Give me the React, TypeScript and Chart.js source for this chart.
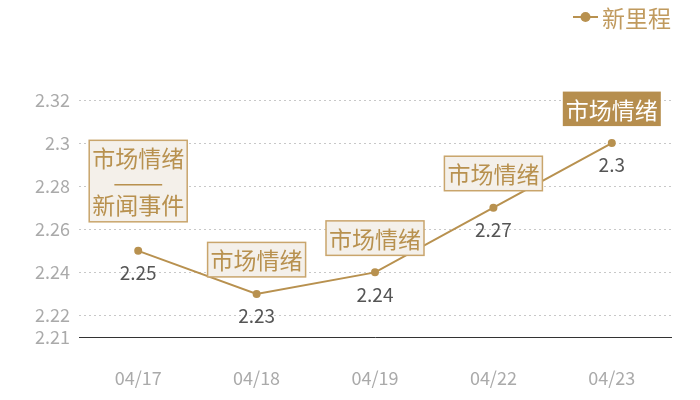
import React, { useEffect, useRef } from "react";
import { Chart, registerables } from "chart.js";

Chart.register(...registerables);

const categories = ["04/17", "04/18", "04/19", "04/22", "04/23"];
const values = [2.25, 2.23, 2.24, 2.27, 2.3];
const yTicks = [2.21, 2.22, 2.24, 2.26, 2.28, 2.3, 2.32];
const noteLines = [
  ["市场情绪", "——", "新闻事件"],
  ["市场情绪"],
  ["市场情绪"],
  ["市场情绪"],
  ["市场情绪"],
];
const noteHighlight = [false, false, false, false, true];
const seriesName = "新里程";

const FONT = '"Noto Sans CJK SC", "Noto Sans", sans-serif';
const GOLD = "#b8914f";
const BOX_BG = "#f4f0ea";
const BOX_BORDER = "#c9a56c";
const FILL_BOX = "#b68e4e";
const NOTE_SIZE = 23;

const overlayPlugin = {
  id: "overlay",
  afterDatasetsDraw(chart: any) {
    const ctx = chart.ctx;
    const meta = chart.getDatasetMeta(0);
    ctx.save();
    ctx.font = `19px ${FONT}`;
    ctx.fillStyle = "#555";
    ctx.textAlign = "center";
    ctx.textBaseline = "middle";
    meta.data.forEach((pt: any, i: number) => {
      ctx.fillText(String(values[i]), pt.x, pt.y + 22);
    });
    const lineH = 23.5;
    const padX = 3;
    const padY = 5.5;
    ctx.font = `${NOTE_SIZE}px ${FONT}`;
    meta.data.forEach((pt: any, i: number) => {
      const lines = noteLines[i];
      const w = Math.max(...lines.map((l) => ctx.measureText(l).width)) + padX * 2;
      const h = lines.length * lineH + padY * 2;
      const gap = lines.length > 1 ? 29 : 17;
      const bottom = pt.y - gap;
      const top = bottom - h;
      const left = pt.x - w / 2;
      if (noteHighlight[i]) {
        ctx.fillStyle = FILL_BOX;
        ctx.fillRect(left, top, w, h);
      } else {
        ctx.fillStyle = BOX_BG;
        ctx.fillRect(left, top, w, h);
        ctx.strokeStyle = BOX_BORDER;
        ctx.lineWidth = 1.5;
        ctx.strokeRect(left, top, w, h);
      }
      ctx.fillStyle = noteHighlight[i] ? "#ffffff" : GOLD;
      lines.forEach((l, k) => {
        const ty = top + padY + lineH * k + lineH / 2 + 1;
        if (/^[—]+$/.test(l)) {
          const natural = ctx.measureText(l).width;
          const target = l.length * NOTE_SIZE * 1.1;
          ctx.save();
          ctx.translate(pt.x, ty);
          ctx.scale(target / natural, 1);
          ctx.fillText(l, 0, 0);
          ctx.restore();
        } else {
          ctx.fillText(l, pt.x, ty);
        }
      });
    });
    ctx.restore();
  },
  afterDraw(chart: any) {
    const ctx = chart.ctx;
    ctx.save();
    const y = 17;
    ctx.strokeStyle = GOLD;
    ctx.lineWidth = 2;
    ctx.beginPath();
    ctx.moveTo(573, y);
    ctx.lineTo(598, y);
    ctx.stroke();
    ctx.fillStyle = GOLD;
    ctx.beginPath();
    ctx.arc(585.5, y, 5, 0, Math.PI * 2);
    ctx.fill();
    ctx.font = `23px ${FONT}`;
    ctx.textAlign = "left";
    ctx.textBaseline = "middle";
    ctx.fillStyle = "#c09a5e";
    ctx.fillText(seriesName, 602, y + 1);
    ctx.restore();
  },
};

export default function App() {
  const ref = useRef<HTMLCanvasElement | null>(null);
  useEffect(() => {
    if (!ref.current) return;
    const chart = new Chart(ref.current, {
      type: "line",
      data: {
        labels: categories,
        datasets: [
          {
            label: seriesName,
            data: values,
            borderColor: GOLD,
            backgroundColor: GOLD,
            borderWidth: 2,
            pointRadius: 4,
            pointBackgroundColor: GOLD,
            pointBorderWidth: 0,
            tension: 0,
          },
        ],
      },
      options: {
        animation: false,
        responsive: true,
        maintainAspectRatio: false,
        layout: { padding: { top: 100, right: 29, left: 0, bottom: 0 } },
        plugins: { legend: { display: false }, tooltip: { enabled: false } },
        scales: {
          x: {
            offset: true,
            grid: { display: false },
            border: { display: true, color: "#333", width: 1 },
            ticks: { color: "#aaa", font: { size: 18, family: FONT }, padding: 22 },
            afterFit: (s: any) => {
              s.height = 63;
            },
          },
          y: {
            min: 2.21,
            max: 2.32,
            afterBuildTicks: (s: any) => {
              s.ticks = yTicks.map((v) => ({ value: v }));
            },
            afterFit: (s: any) => {
              s.width = 79;
            },
            grid: {
              drawTicks: false,
              color: (c: any) => (c.tick && Math.abs(c.tick.value - 2.21) < 1e-9 ? "rgba(0,0,0,0)" : "#c8c8c8"),
              lineWidth: 1,
            },
            border: { display: false, dash: [2, 3] },
            ticks: {
              color: "#aaa",
              font: { size: 18, family: FONT },
              padding: 9,
              callback: (v: any) => String(Math.round(Number(v) * 100) / 100),
            },
          },
        },
      },
      plugins: [overlayPlugin],
    });
    return () => chart.destroy();
  }, []);
  return (
    <div style={{ position: "fixed", left: 0, top: 0, width: 700, height: 400, background: "#fff" }}>
      <canvas ref={ref} />
    </div>
  );
}
